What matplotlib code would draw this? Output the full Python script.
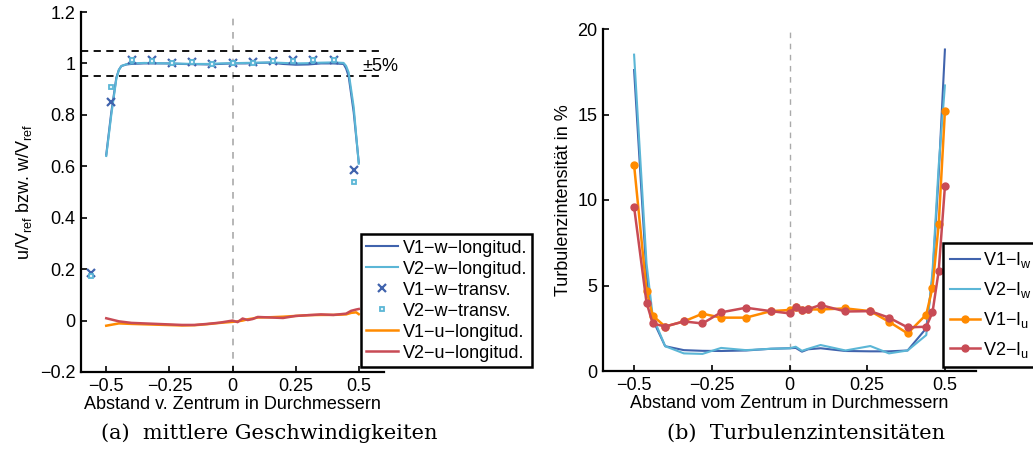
import numpy as np
import matplotlib
matplotlib.use("Agg")
import matplotlib.pyplot as plt

plt.rcParams["font.family"] = ["Liberation Sans", "DejaVu Sans"]
plt.rcParams["mathtext.default"] = "regular"
plt.rcParams["axes.unicode_minus"] = True

# -----------------------------
# Daten (a) mittlere Geschwindigkeiten
# -----------------------------
x_w = [-0.50, -0.48, -0.46, -0.45, -0.44, -0.42, -0.40, -0.35, -0.30, -0.25, -0.20,
       -0.15, -0.10, -0.05, 0.00, 0.05, 0.10, 0.15, 0.20, 0.25, 0.30, 0.35, 0.40,
       0.44, 0.45, 0.46, 0.48, 0.50]
v1_w_long = [0.645, 0.81, 0.945, 0.975, 0.99, 0.996, 0.998, 1.0, 1.0, 1.0, 0.998,
             0.997, 0.996, 0.998, 1.0, 1.0, 1.002, 1.003, 0.998, 0.995, 0.996, 1.0,
             1.0, 0.998, 0.98, 0.95, 0.81, 0.615]
v2_w_long = [0.64, 0.80, 0.94, 0.975, 0.99, 0.997, 1.0, 1.002, 1.001, 1.0, 0.999,
             0.998, 0.998, 1.0, 1.001, 1.002, 1.003, 1.004, 1.002, 1.0, 1.001, 1.003,
             1.004, 1.002, 0.99, 0.965, 0.83, 0.61]

x_tr = [-0.56, -0.48, -0.40, -0.32, -0.24, -0.16, -0.08, 0.00, 0.08, 0.16, 0.24,
        0.32, 0.40, 0.48]
v1_w_tr = [0.185, 0.85, 1.015, 1.012, 1.003, 1.005, 0.999, 1.0, 1.004, 1.01, 1.012,
           1.015, 1.015, 0.585]
v2_w_tr = [0.172, 0.908, 1.013, 1.01, 1.002, 1.004, 0.998, 1.0, 1.003, 1.008, 1.01,
           1.013, 1.013, 0.539]

x_u = [-0.50, -0.45, -0.40, -0.30, -0.20, -0.15, -0.10, -0.05, 0.00, 0.02, 0.04,
       0.06, 0.08, 0.10, 0.15, 0.20, 0.25, 0.30, 0.35, 0.40, 0.45, 0.47, 0.49, 0.50]
v1_u_long = [-0.02, -0.011, -0.013, -0.016, -0.019, -0.018, -0.014, -0.009, -0.005,
             -0.003, 0.0, 0.005, 0.008, 0.012, 0.013, 0.015, 0.018, 0.021, 0.022,
             0.022, 0.024, 0.03, 0.032, 0.025]
v2_u_long = [0.009, -0.003, -0.009, -0.013, -0.017, -0.017, -0.013, -0.008, 0.0,
             -0.006, 0.008, 0.002, 0.006, 0.014, 0.012, 0.01, 0.018, 0.021, 0.024,
             0.022, 0.027, 0.038, 0.043, 0.045]

# -----------------------------
# Daten (b) Turbulenzintensitäten
# -----------------------------
x_i = [-0.50, -0.46, -0.44, -0.40, -0.34, -0.28, -0.22, -0.14, -0.06, 0.00, 0.02,
       0.04, 0.06, 0.10, 0.18, 0.26, 0.32, 0.38, 0.44, 0.46, 0.48, 0.50]
v1_iw = [17.6, 5.6, 3.0, 1.45, 1.22, 1.18, 1.17, 1.2, 1.3, 1.33, 1.35, 1.13, 1.27,
         1.33, 1.17, 1.15, 1.15, 1.2, 2.5, 5.5, 11.5, 18.8]
v2_iw = [18.5, 6.3, 3.2, 1.45, 1.03, 1.0, 1.35, 1.22, 1.3, 1.33, 1.42, 1.18, 1.3,
         1.52, 1.2, 1.46, 1.03, 1.2, 2.1, 5.8, 12.0, 16.7]
v1_iu = [12.05, 4.7, 3.23, 2.6, 2.9, 3.35, 3.12, 3.12, 3.5, 3.57, 3.76, 3.57, 3.6,
         3.6, 3.66, 3.5, 2.88, 2.2, 3.3, 4.87, 8.58, 15.2]
v2_iu = [9.6, 4.0, 2.78, 2.6, 2.9, 2.78, 3.43, 3.70, 3.5, 3.37, 3.76, 3.57, 3.62,
         3.86, 3.48, 3.5, 3.12, 2.55, 2.59, 3.43, 5.85, 10.8]

C_DB = "#4063ad"
C_LB = "#5bb6d6"
C_OR = "#ff8a00"
C_RD = "#c84b55"

W, H = 1033, 466
fig = plt.figure(figsize=(W / 100, H / 100), dpi=100)

def px_axes(l, r, t, b):
    return fig.add_axes([l / W, 1 - b / H, (r - l) / W, (b - t) / H])

def style(ax):
    for s in ("top", "right"):
        ax.spines[s].set_visible(False)
    for s in ("left", "bottom"):
        ax.spines[s].set_linewidth(1.6)
    ax.tick_params(direction="in", length=4, width=1.2, labelsize=13, pad=4)

# ----- (a) -----
ax1 = px_axes(81, 384, 12, 372)
style(ax1)
ax1.axvline(0, color="#aaaaaa", ls=(0, (4, 4)), lw=1.2, zorder=0)
ax1.axhline(1.05, color="black", ls=(0, (4, 3)), lw=1.3)
ax1.axhline(0.95, color="black", ls=(0, (4, 3)), lw=1.3)
ax1.plot(x_w, v1_w_long, color=C_DB, lw=1.5, label="V1−w−longitud.")
ax1.plot(x_w, v2_w_long, color=C_LB, lw=1.5, label="V2−w−longitud.")
ax1.plot(x_tr, v1_w_tr, ls="none", marker="x", ms=6, mew=1.6, color=C_DB,
         label="V1−w−transv.")
ax1.plot(x_tr, v2_w_tr, ls="none", marker="s", ms=3.5, mew=1.3, color=C_LB,
         mfc="#e6f4fa", label="V2−w−transv.")
ax1.plot(x_u, v1_u_long, color=C_OR, lw=1.8, label="V1−u−longitud.")
ax1.plot(x_u, v2_u_long, color=C_RD, lw=1.8, label="V2−u−longitud.")
ax1.text(0.515, 0.99, "±5%", fontsize=13, va="center", ha="left")
ax1.set_xlim(-0.6, 0.6)
ax1.set_ylim(-0.2, 1.2)
ax1.set_xticks([-0.5, -0.25, 0, 0.25, 0.5])
ax1.set_xticklabels(["−0.5", "−0.25", "0", "0.25", "0.5"])
ax1.set_yticks([-0.2, 0, 0.2, 0.4, 0.6, 0.8, 1.0, 1.2])
ax1.set_yticklabels(["−0.2", "0", "0.2", "0.4", "0.6", "0.8", "1", "1.2"])
ax1.set_xlabel("Abstand v. Zentrum in Durchmessern", fontsize=13, labelpad=1)
ax1.set_ylabel("u/V$_{ref}$ bzw. w/V$_{ref}$", fontsize=13, labelpad=4)
leg1 = ax1.legend(loc="lower left", bbox_to_anchor=(361 / W, 1 - 367 / H),
                  bbox_transform=fig.transFigure, fontsize=13, frameon=True,
                  fancybox=False, edgecolor="black", handlelength=1.75,
                  handletextpad=0.25, labelspacing=0.22, borderpad=0.3,
                  borderaxespad=0)
leg1.get_frame().set_linewidth(1.8)
leg1.get_frame().set_alpha(1)

# ----- (b) -----
ax2 = px_axes(603, 976, 29, 371)
style(ax2)
ax2.axvline(0, color="#aaaaaa", ls=(0, (4, 4)), lw=1.0, zorder=0)
ax2.plot(x_i, v1_iw, color=C_DB, lw=1.5, label="V1−I$_w$")
ax2.plot(x_i, v2_iw, color=C_LB, lw=1.5, label="V2−I$_w$")
ax2.plot(x_i, v1_iu, color=C_OR, lw=1.8, marker="o", ms=5, label="V1−I$_u$")
ax2.plot(x_i, v2_iu, color=C_RD, lw=1.8, marker="o", ms=5, label="V2−I$_u$")
ax2.set_xlim(-0.6, 0.6)
ax2.set_ylim(0, 20)
ax2.set_xticks([-0.5, -0.25, 0, 0.25, 0.5])
ax2.set_xticklabels(["−0.5", "−0.25", "0", "0.25", "0.5"])
ax2.set_yticks([0, 5, 10, 15, 20])
ax2.set_xlabel("Abstand vom Zentrum in Durchmessern", fontsize=13, labelpad=1)
ax2.set_ylabel("Turbulenzintensität in %", fontsize=13, labelpad=4)
leg2 = ax2.legend(loc="lower left", bbox_to_anchor=(943 / W, 1 - 367 / H),
                  bbox_transform=fig.transFigure, fontsize=13, frameon=True,
                  fancybox=False, edgecolor="black", handlelength=1.65,
                  handletextpad=0.15, labelspacing=0.55, borderpad=0.4,
                  borderaxespad=0)
leg2.get_frame().set_linewidth(1.8)
leg2.get_frame().set_alpha(1)

# Bildunterschriften
fig.text(269 / W, 1 - 433 / H, "(a)  mittlere Geschwindigkeiten", fontsize=15,
         family=["DejaVu Serif"], ha="center", va="center")
fig.text(806 / W, 1 - 433 / H, "(b)  Turbulenzintensitäten", fontsize=15,
         family=["DejaVu Serif"], ha="center", va="center")

fig.savefig("out.png", dpi=100)
